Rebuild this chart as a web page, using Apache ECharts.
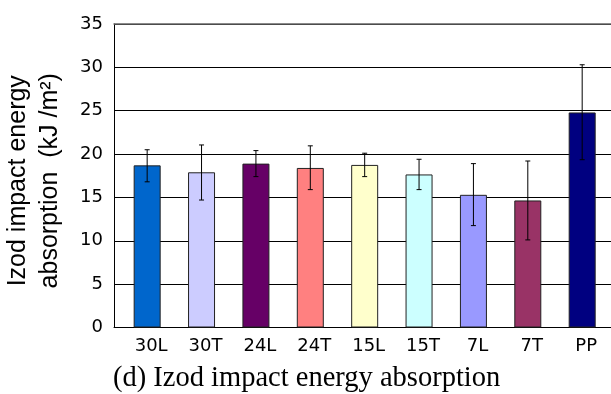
<!DOCTYPE html>
<html>
<head>
<meta charset="utf-8">
<script src="https://cdn.jsdelivr.net/npm/echarts@6/dist/echarts.min.js"></script>
<style>
  html, body { margin: 0; padding: 0; background: #fff; }
  #chart { width: 611px; height: 394px; }
</style>
</head>
<body>
<div id="chart"></div>
<script>
// Specimen groups and their mean Izod impact energy absorption (kJ/m²)
const categories = ['30L', '30T', '24L', '24T', '15L', '15T', '7L', '7T', 'PP'];
const meanValues = [18.7, 17.9, 18.9, 18.4, 18.75, 17.65, 15.3, 14.65, 24.8];
// Lower and upper ends of the error bars
const errorLow  = [16.8, 14.7, 17.4, 15.9, 17.4, 15.9, 11.75, 10.1, 19.35];
const errorHigh = [20.5, 21.05, 20.4, 20.95, 20.1, 19.4, 18.9, 19.2, 30.3];
const barColors = ['#0066CC', '#CCCCFF', '#660066', '#FF8080', '#FFFFCC', '#CCFFFF', '#9999FF', '#993366', '#000080'];
const categoryPositions = categories.map((_, i) => i);

const sans = '"DejaVu Sans", sans-serif';
const arial = '"Liberation Sans", Arial, sans-serif';
const serif = '"Liberation Serif", "Times New Roman", serif';

const chart = echarts.init(document.getElementById('chart'), null, { renderer: 'canvas' });

// x extent (in category units) so that the plot starts at the y axis and runs to the right edge
const xRange = { min: -0.61, max: 8.53 };

chart.setOption({
  animation: false,
  backgroundColor: '#fff',
  title: {
    text: '(d) Izod impact energy absorption',
    left: 108,
    top: 359.5,
    textStyle: { fontFamily: serif, fontSize: 28.5, fontWeight: 'normal', color: '#000' }
  },
  grid: { left: 114, right: 0, top: 24, bottom: 66.5, containLabel: false, outerBoundsMode: 'none' },
  xAxis: [
    {
      type: 'value',
      min: xRange.min,
      max: xRange.max,
      axisLine: { show: true, onZero: false, lineStyle: { color: '#000', width: 1 } },
      axisTick: { show: false },
      splitLine: { show: false },
      axisLabel: {
        customValues: categoryPositions,
        formatter: v => categories[Math.round(v)],
        fontFamily: sans,
        fontSize: 18,
        color: '#000',
        margin: 10,
        padding: [0, 0, 0, 8]
      }
    },
    {
      type: 'value',
      position: 'top',
      min: xRange.min,
      max: xRange.max,
      axisLine: { show: true, onZero: false, lineStyle: { color: '#666', width: 1.5 } },
      axisTick: { show: false },
      axisLabel: { show: false },
      splitLine: { show: false }
    }
  ],
  yAxis: {
    type: 'value',
    min: 0,
    max: 35,
    interval: 5,
    name: 'Izod impact energy\nabsorption  (kJ /m²)',
    nameLocation: 'middle',
    nameGap: 48,
    nameTextStyle: { fontFamily: arial, fontSize: 25, lineHeight: 32, color: '#000', padding: [0, 10, 0, 0] },
    axisLine: { show: true, onZero: false, lineStyle: { color: '#000', width: 1 } },
    axisTick: { show: false },
    axisLabel: { fontFamily: sans, fontSize: 18, color: '#000', margin: 11 },
    splitLine: { show: true, lineStyle: { color: '#000', width: 1 } }
  },
  series: [
    {
      type: 'bar',
      xAxisIndex: 0,
      barWidth: 27,
      data: meanValues.map((v, i) => ({
        value: [categoryPositions[i], v],
        itemStyle: { color: barColors[i], borderColor: '#222', borderWidth: 1 }
      })),
      z: 2
    },
    {
      type: 'custom',
      xAxisIndex: 0,
      data: categoryPositions.map((p, i) => [p, errorLow[i], errorHigh[i]]),
      encode: { x: 0, y: [1, 2] },
      z: 5,
      renderItem: (params, api) => {
        const x = api.value(0);
        const lo = api.coord([x, api.value(1)]);
        const hi = api.coord([x, api.value(2)]);
        const cap = 2.5;
        const style = { stroke: '#000', lineWidth: 1 };
        return {
          type: 'group',
          children: [
            { type: 'line', shape: { x1: lo[0], y1: lo[1], x2: hi[0], y2: hi[1] }, style },
            { type: 'line', shape: { x1: hi[0] - cap, y1: hi[1], x2: hi[0] + cap, y2: hi[1] }, style },
            { type: 'line', shape: { x1: lo[0] - cap, y1: lo[1], x2: lo[0] + cap, y2: lo[1] }, style }
          ]
        };
      }
    }
  ]
});
</script>
</body>
</html>
